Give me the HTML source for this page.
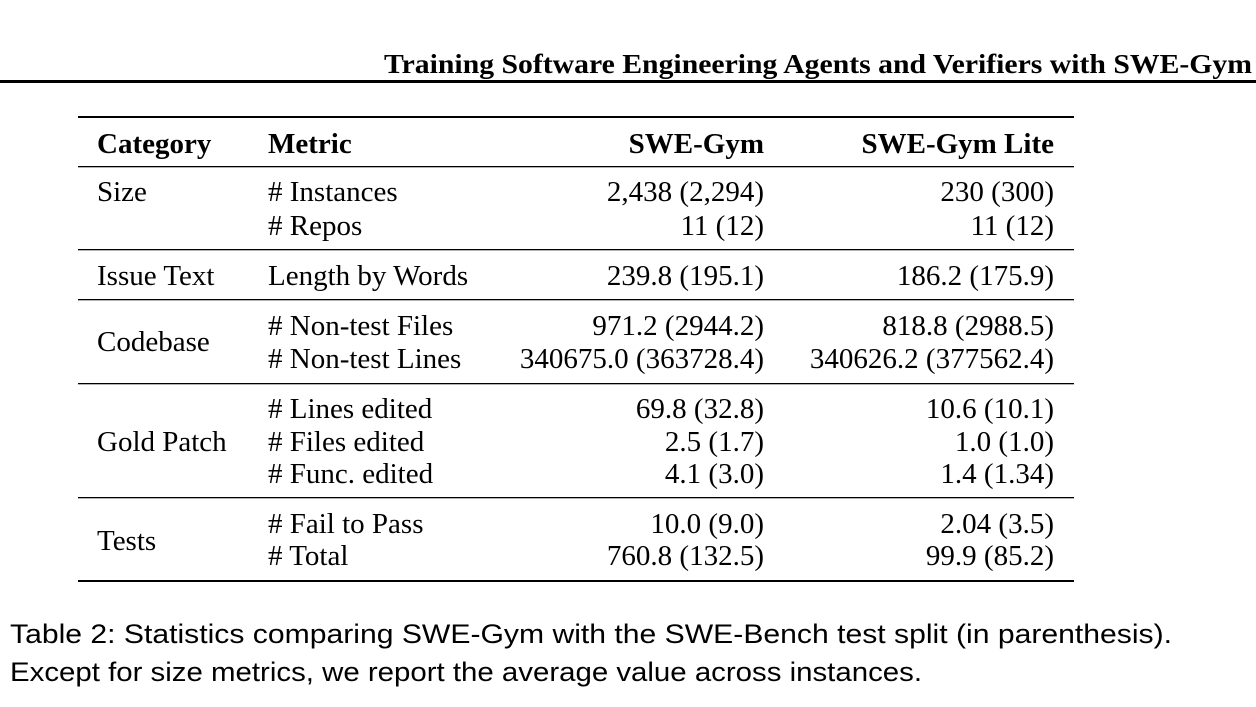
<!DOCTYPE html>
<html><head><meta charset="utf-8"><style>html,body{margin:0;padding:0;background:#fff}svg{display:block}</style></head>
<body>
<svg width="1256" height="707" viewBox="0 0 1256 707" xmlns="http://www.w3.org/2000/svg">
<g font-family="Liberation Serif, serif" fill="#000">
<text x="1252" y="73" font-size="27" font-weight="bold" text-anchor="end" textLength="868" lengthAdjust="spacingAndGlyphs">Training Software Engineering Agents and Verifiers with SWE-Gym</text>
<rect x="0" y="80" width="1256" height="3"/>
<rect x="78" y="116" width="996" height="2"/>
<rect x="78" y="166" width="996" height="1.3"/>
<rect x="78" y="249" width="996" height="1.3"/>
<rect x="78" y="299" width="996" height="1.3"/>
<rect x="78" y="383" width="996" height="1.3"/>
<rect x="78" y="497" width="996" height="1.3"/>
<rect x="78" y="580" width="996" height="2"/>
<g font-size="29" font-weight="bold">
<text x="97" y="153">Category</text>
<text x="268" y="153">Metric</text>
<text x="764" y="153" text-anchor="end">SWE-Gym</text>
<text x="1054" y="153" text-anchor="end">SWE-Gym Lite</text>
</g>
<g font-size="29">
<text x="97" y="201">Size</text>
<text x="268" y="201"># Instances</text>
<text x="764" y="201" text-anchor="end">2,438 (2,294)</text>
<text x="1054" y="201" text-anchor="end">230 (300)</text>
<text x="268" y="235"># Repos</text>
<text x="764" y="235" text-anchor="end">11 (12)</text>
<text x="1054" y="235" text-anchor="end">11 (12)</text>

<text x="97" y="285">Issue Text</text>
<text x="268" y="285">Length by Words</text>
<text x="764" y="285" text-anchor="end">239.8 (195.1)</text>
<text x="1054" y="285" text-anchor="end">186.2 (175.9)</text>

<text x="97" y="351">Codebase</text>
<text x="268" y="335"># Non-test Files</text>
<text x="764" y="335" text-anchor="end">971.2 (2944.2)</text>
<text x="1054" y="335" text-anchor="end">818.8 (2988.5)</text>
<text x="268" y="368"># Non-test Lines</text>
<text x="764" y="368" text-anchor="end">340675.0 (363728.4)</text>
<text x="1054" y="368" text-anchor="end">340626.2 (377562.4)</text>

<text x="97" y="451">Gold Patch</text>
<text x="268" y="418"># Lines edited</text>
<text x="764" y="418" text-anchor="end">69.8 (32.8)</text>
<text x="1054" y="418" text-anchor="end">10.6 (10.1)</text>
<text x="268" y="451"># Files edited</text>
<text x="764" y="451" text-anchor="end">2.5 (1.7)</text>
<text x="1054" y="451" text-anchor="end">1.0 (1.0)</text>
<text x="268" y="483"># Func. edited</text>
<text x="764" y="483" text-anchor="end">4.1 (3.0)</text>
<text x="1054" y="483" text-anchor="end">1.4 (1.34)</text>

<text x="97" y="550">Tests</text>
<text x="268" y="533"># Fail to Pass</text>
<text x="764" y="533" text-anchor="end">10.0 (9.0)</text>
<text x="1054" y="533" text-anchor="end">2.04 (3.5)</text>
<text x="268" y="565"># Total</text>
<text x="764" y="565" text-anchor="end">760.8 (132.5)</text>
<text x="1054" y="565" text-anchor="end">99.9 (85.2)</text>
</g>
</g>
<g font-family="Liberation Sans, sans-serif" font-size="27" fill="#000">
<text x="10" y="643" textLength="1162" lengthAdjust="spacingAndGlyphs">Table 2: Statistics comparing SWE-Gym with the SWE-Bench test split (in parenthesis).</text>
<text x="10" y="681" textLength="912" lengthAdjust="spacingAndGlyphs">Except for size metrics, we report the average value across instances.</text>
</g>
</svg>
</body></html>
